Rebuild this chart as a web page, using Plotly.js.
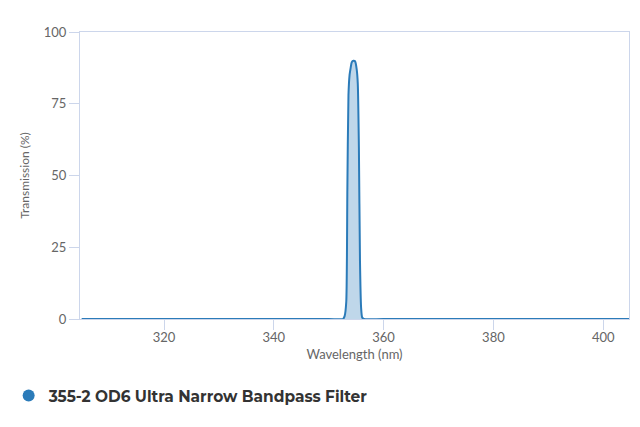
<!DOCTYPE html>
<html>
<head>
<meta charset="utf-8">
<script src="https://cdn.plot.ly/plotly-3.0.1.min.js"></script>
<style>
  html, body { margin: 0; padding: 0; background: #fff; }
  #chart { width: 640px; height: 427px; }
</style>
</head>
<body>
<div id="chart"></div>
<script>
// transmission curve
var wavelength = [305, 350, 352.6, 352.9, 353.2, 353.4, 353.6, 353.8, 354.0, 354.2, 354.5, 354.8, 355.1, 355.3, 355.5, 355.7, 355.9, 356.1, 356.4, 360, 405];
var transmission = [0, 0, 0, 1, 6, 45, 78, 85, 87.5, 89.5, 90, 89.8, 87, 82, 60, 20, 4, 0.5, 0, 0, 0];

var seriesName = '355-2 OD6 Ultra Narrow Bandpass Filter';
var lineColor = '#2b7bb9';

var axisLine = '#ccd6eb';

var traces = [
    {
        x: wavelength,
        y: transmission,
        type: 'scatter',
        mode: 'lines',
        line: {color: lineColor, width: 2, shape: 'spline', smoothing: 0.6},
        fill: 'tozeroy',
        fillcolor: 'rgba(43,123,185,0.3)',
        showlegend: false,
        hoverinfo: 'x+y'
    },
    {
        // legend entry only
        x: [null],
        y: [null],
        type: 'scatter',
        mode: 'markers',
        marker: {color: lineColor, size: 15, symbol: 'circle'},
        name: seriesName
    }
];

var layout = {
    width: 640,
    height: 427,
    margin: {l: 80, r: 11, t: 32, b: 108},
    paper_bgcolor: '#ffffff',
    plot_bgcolor: '#ffffff',
    font: {family: 'Lato, "Open Sans", sans-serif', color: '#666666', size: 12},
    xaxis: {
        range: [304.7, 404.7],
        tick0: 320,
        dtick: 20,
        automargin: false,
        showgrid: false,
        zeroline: false,
        showline: true,
        mirror: true,
        linecolor: axisLine,
        linewidth: 1,
        ticks: 'outside',
        ticklen: 10,
        tickcolor: axisLine,
        ticklabelstandoff: -4,
        tickfont: {size: 13, color: '#666666'},
        title: {text: 'Wavelength (nm)', font: {size: 13, color: '#666666'}, standoff: 6}
    },
    yaxis: {
        range: [0, 100],
        tick0: 0,
        dtick: 25,
        automargin: false,
        showgrid: false,
        zeroline: false,
        showline: true,
        mirror: true,
        linecolor: axisLine,
        linewidth: 1,
        ticks: 'outside',
        ticklen: 10,
        tickcolor: axisLine,
        tickfont: {size: 13, color: '#666666'},
        title: {text: 'Transmission (%)', font: {size: 12, color: '#666666'}, standoff: 11}
    },
    showlegend: true,
    legend: {
        orientation: 'h',
        xref: 'container',
        yref: 'container',
        x: 0.0135,
        xanchor: 'left',
        y: 0.0726,
        yanchor: 'middle',
        font: {family: 'Montserrat, "Open Sans", sans-serif', size: 15.4, color: '#333333', weight: 700},
        itemsizing: 'constant'
    }
};

Plotly.newPlot('chart', traces, layout, {displayModeBar: false, staticPlot: true});
</script>
</body>
</html>
